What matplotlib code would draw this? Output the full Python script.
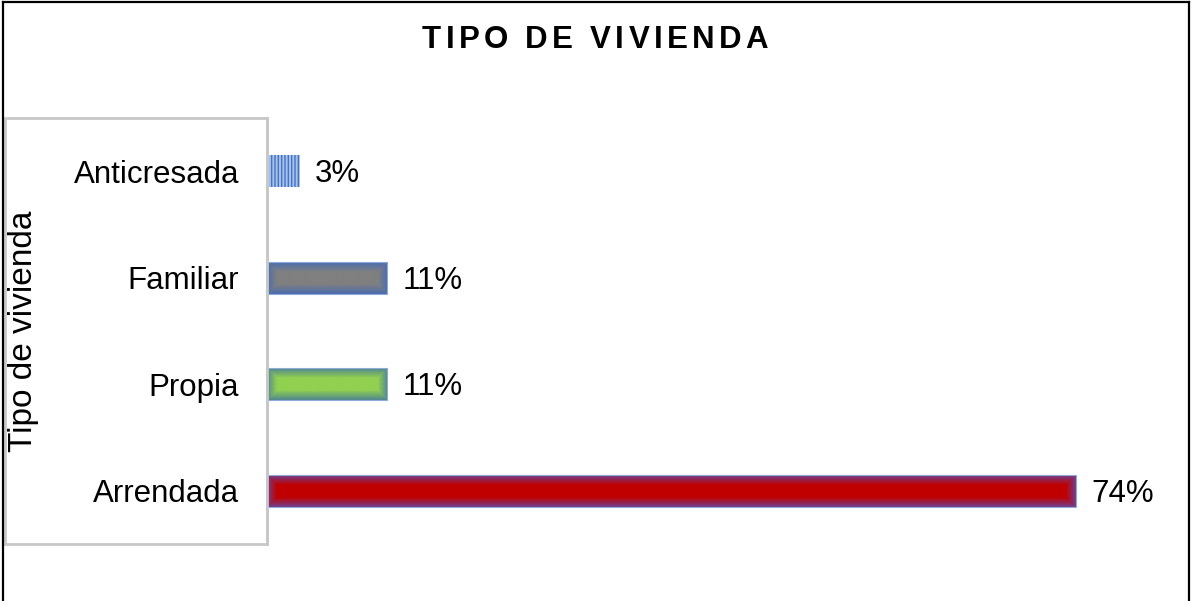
import numpy as np
import matplotlib
matplotlib.use("Agg")
import matplotlib.pyplot as plt
from matplotlib.colors import to_rgb
from matplotlib.patches import Rectangle
from matplotlib.lines import Line2D
from matplotlib.font_manager import FontProperties
from matplotlib.textpath import text_to_path

plt.rcParams["font.family"] = ["Liberation Sans", "DejaVu Sans"]

# data (top to bottom)
categories = ["Anticresada", "Familiar", "Propia", "Arrendada"]
values = [3, 11, 11, 74]
labels = ["3%", "11%", "11%", "74%"]
center_colors = ["#a9c4eb", "#808080", "#92d050", "#c00000"]
edge_colors = ["#4472c4", "#4a6cb0", "#4f8590", "#70408e"]

W, H = 1192, 601
fig = plt.figure(figsize=(W / 100, H / 100), dpi=100)
ax = fig.add_axes([267 / W, 1 - 544 / H, (1160 - 267) / W, (544 - 118) / H])

y = np.arange(len(categories))
bars = ax.barh(y, values, height=0.3, color=center_colors, zorder=2)

# first bar: vertical stripes, others: soft glowing edges
bars[0].set_hatch("|||||")
bars[0].set_edgecolor(edge_colors[0])
bars[0].set_linewidth(0)
px_per_unit = (1160 - 267) / 81.7
bar_px_h = 0.3 * (544 - 118) / 4
glow = 10.0
for i in range(1, len(bars)):
    b = bars[i]
    wpx = int(round(b.get_width() * px_per_unit))
    hpx = int(round(bar_px_h))
    xs = np.arange(wpx) + 0.5
    ys = np.arange(hpx) + 0.5
    X, Y = np.meshgrid(xs, ys)
    d = np.minimum(np.minimum(X, wpx - X), np.minimum(Y, hpx - Y))
    t = np.clip(d / glow, 0, 1)[..., None]
    img = np.array(to_rgb(edge_colors[i])) * (1 - t) + np.array(to_rgb(center_colors[i])) * t
    ax.imshow(img, extent=(b.get_x(), b.get_x() + b.get_width(),
                           b.get_y() + b.get_height(), b.get_y()),
              aspect="auto", interpolation="bilinear", zorder=3)
    ax.add_patch(Rectangle((b.get_x(), b.get_y()), b.get_width(), b.get_height(),
                           fill=False, edgecolor="#8eaadb", linewidth=0.8, zorder=4))
ax.set_xlim(0, 81.7)
ax.set_ylim(len(categories) - 0.5, -0.5)

for b, lab in zip(bars, labels):
    ax.annotate(lab, (b.get_width(), b.get_y() + b.get_height() / 2),
                xytext=(11, -2), textcoords="offset points",
                ha="left", va="center", fontsize=22.5)

ax.set_yticks(y)
ax.set_yticklabels(categories, fontsize=22.5)
ax.tick_params(axis="y", length=0, pad=20)
ax.set_xticks([])
for s in ["top", "right", "bottom"]:
    ax.spines[s].set_visible(False)
ax.spines["left"].set_color("#bfbfbf")
ax.spines["left"].set_linewidth(2)

ax.set_ylabel("Tipo de vivienda", fontsize=24, va="center")
ax.yaxis.set_label_coords((23 - 267) / (1160 - 267), 0.5)

# gray box around category labels
fig.patches.append(Rectangle((5 / W, 1 - 544 / H), (267 - 5) / W, (544 - 118) / H,
                             transform=fig.transFigure, fill=False,
                             edgecolor="#c8c8c8", linewidth=2))

# outer black border
for xs_, ys_ in [([3 / W, 3 / W], [0, 1 - 2 / H]),
                 ([3 / W, 1189 / W], [1 - 2 / H, 1 - 2 / H]),
                 ([1189 / W, 1189 / W], [0, 1 - 2 / H])]:
    fig.lines.append(Line2D(xs_, ys_, transform=fig.transFigure, color="black", linewidth=1.6))

# title with letter spacing
title = "TIPO DE VIVIENDA"
prop = FontProperties(family=["Liberation Sans"], weight="bold", size=22.5)
scale = 100 / 72
extra = 4.3


def tw(s):
    return text_to_path.get_text_width_height_descent(s, prop, ismath=False)[0] * scale


total = tw(title) + extra * (len(title) - 1)
left = 595 - total / 2
for k, ch in enumerate(title):
    if ch == " ":
        continue
    pos = tw(title[:k + 1]) - tw(ch) + k * extra
    fig.text((left + pos) / W, 1 - 40.5 / H, ch, fontproperties=prop,
             ha="left", va="center")

fig.savefig("out.png", dpi=100)
